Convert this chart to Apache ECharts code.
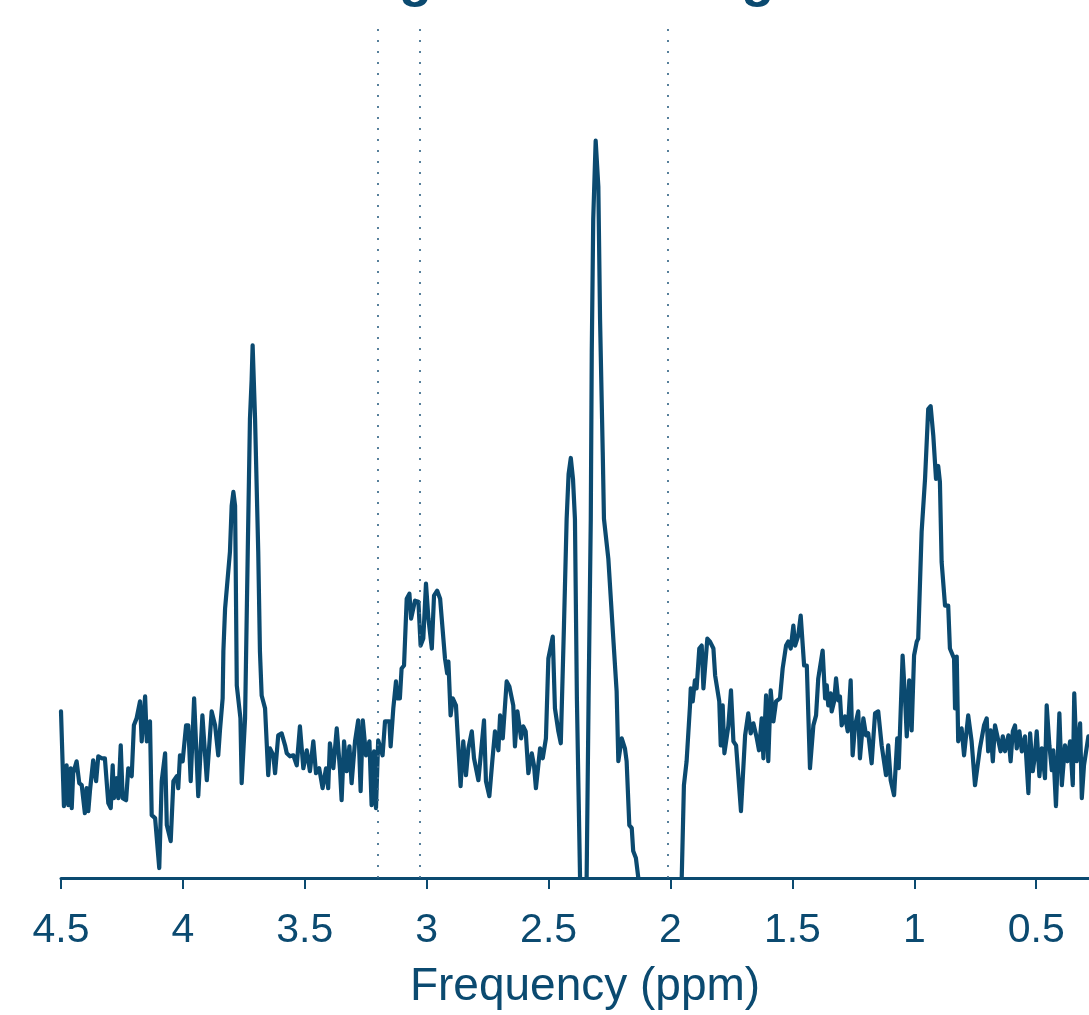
<!DOCTYPE html>
<html>
<head>
<meta charset="utf-8">
<script src="https://cdn.jsdelivr.net/npm/echarts@6/dist/echarts.min.js"></script>
<style>
html,body{margin:0;padding:0;background:#fff;}
#chart{width:1089px;height:1015px;}
</style>
</head>
<body>
<div id="chart"></div>
<script>
// Frequency axis (ppm), descending
const ppm = [
4.500,4.488,4.477,4.470,4.460,4.456,4.450,4.436,4.425,4.415,4.402,4.395,4.388,4.381,4.368,4.356,4.347,4.333,4.320,4.306,
4.296,4.288,4.283,4.272,4.265,4.255,4.247,4.233,4.224,4.210,4.201,4.190,4.176,4.169,4.155,4.148,4.135,4.128,4.114,4.097,
4.087,4.073,4.066,4.050,4.039,4.025,4.019,4.012,4.001,3.987,3.978,3.968,3.954,3.937,3.920,3.902,3.882,3.868,3.855,3.848,
3.837,3.834,3.827,3.807,3.800,3.793,3.786,3.784,3.779,3.764,3.759,3.745,3.734,3.725,3.718,3.714,3.704,3.691,3.684,3.677,
3.663,3.656,3.650,3.643,3.629,3.622,3.609,3.595,3.581,3.574,3.561,3.547,3.533,3.520,3.506,3.492,3.479,3.465,3.454,3.441,
3.427,3.413,3.404,3.397,3.383,3.369,3.356,3.349,3.339,3.328,3.317,3.308,3.294,3.281,3.271,3.262,3.249,3.235,3.226,3.216,
3.208,3.199,3.181,3.171,3.153,3.148,3.137,3.126,3.121,3.110,3.103,3.093,3.082,3.071,3.064,3.048,3.034,3.025,3.014,3.003,
2.993,2.979,2.970,2.957,2.945,2.925,2.916,2.911,2.902,2.893,2.880,2.861,2.850,2.839,2.829,2.815,2.806,2.788,2.765,2.757,
2.743,2.731,2.720,2.706,2.699,2.688,2.672,2.661,2.645,2.638,2.628,2.613,2.604,2.594,2.583,2.569,2.560,2.552,2.535,2.524,
2.511,2.501,2.483,2.474,2.460,2.450,2.437,2.426,2.418,2.409,2.400,2.392,2.384,2.371,2.359,2.344,2.336,2.327,2.323,2.317,
2.307,2.296,2.289,2.278,2.273,2.255,2.238,2.221,2.214,2.200,2.187,2.180,2.169,2.159,2.153,2.142,2.132,2.084,1.982,1.954,
1.945,1.934,1.920,1.917,1.909,1.900,1.893,1.882,1.872,1.865,1.849,1.838,1.824,1.817,1.800,1.794,1.786,1.779,1.763,1.752,
1.742,1.731,1.711,1.694,1.681,1.671,1.660,1.646,1.637,1.626,1.619,1.608,1.599,1.589,1.578,1.567,1.551,1.540,1.526,1.517,
1.507,1.496,1.489,1.476,1.466,1.452,1.441,1.428,1.414,1.403,1.394,1.376,1.366,1.359,1.353,1.343,1.339,1.329,1.321,1.312,
1.305,1.298,1.284,1.273,1.261,1.253,1.243,1.230,1.223,1.209,1.198,1.189,1.175,1.161,1.148,1.134,1.116,1.107,1.097,1.083,
1.070,1.064,1.048,1.038,1.031,1.021,1.011,1.001,0.990,0.984,0.970,0.956,0.943,0.933,0.922,0.911,0.902,0.895,0.888,0.874,
0.861,0.854,0.837,0.833,0.826,0.820,0.806,0.796,0.779,0.765,0.751,0.731,0.714,0.703,0.697,0.687,0.678,0.669,0.660,0.646,
0.637,0.628,0.614,0.605,0.596,0.587,0.580,0.569,0.559,0.546,0.532,0.525,0.514,0.505,0.498,0.487,0.477,0.464,0.457,0.446,
0.436,0.430,0.419,0.405,0.395,0.382,0.372,0.361,0.350,0.344,0.334,0.320,0.313,0.304,0.286,0.270,0.250
];
// Signal amplitude (arbitrary units)
const signal = [
1.67,0.72,1.13,0.73,1.10,0.70,1.05,1.17,0.95,0.93,0.65,0.90,0.67,0.88,1.18,0.97,1.22,1.20,1.20,0.75,
0.70,1.13,0.80,1.00,0.80,1.33,0.80,0.78,1.10,1.02,1.53,1.60,1.77,1.37,1.82,1.37,1.57,0.63,0.60,0.10,
0.97,1.25,0.53,0.37,0.97,1.02,0.90,1.23,1.17,1.53,1.53,0.97,1.80,0.82,1.63,0.98,1.67,1.53,1.23,1.48,
1.80,2.27,2.70,3.27,3.73,3.87,3.73,3.27,1.93,1.60,0.95,1.60,3.27,4.60,5.00,5.34,4.60,3.27,2.27,1.83,
1.70,1.68,1.03,1.30,1.23,1.05,1.43,1.45,1.33,1.25,1.22,1.23,1.13,1.52,1.10,1.28,1.07,1.37,1.05,1.10,
0.90,1.10,0.90,1.35,1.10,1.50,1.10,0.78,1.37,1.07,1.32,0.95,1.37,1.58,0.87,1.58,1.23,1.37,0.73,1.27,
0.70,1.38,1.23,1.57,1.57,1.32,1.70,1.97,1.80,1.80,2.10,2.13,2.80,2.85,2.60,2.78,2.77,2.33,2.40,2.95,
2.60,2.30,2.83,2.88,2.80,2.20,2.05,2.17,1.63,1.80,1.73,0.92,1.37,1.03,1.30,1.47,1.20,0.98,1.58,0.97,
0.82,1.17,1.47,1.28,1.63,1.40,1.97,1.92,1.73,1.32,1.67,1.40,1.52,1.47,1.05,1.25,1.13,0.90,1.30,1.20,
1.40,2.20,2.42,1.70,1.47,1.35,2.53,3.60,4.05,4.21,4.00,3.60,1.80,0.00,-1.20,0.00,1.80,3.60,5.27,6.60,
7.39,6.93,5.60,4.27,3.60,3.20,2.53,1.87,1.17,1.40,1.30,1.17,0.53,0.50,0.27,0.20,0.00,-1.00,-1.10,0.00,
0.93,1.17,1.73,1.90,1.77,1.98,1.90,2.30,2.33,1.90,2.40,2.37,2.30,2.03,1.77,1.33,1.73,1.25,1.52,1.88,
1.37,1.33,0.67,1.43,1.65,1.45,1.55,1.40,1.28,1.60,1.20,1.83,1.17,1.88,1.57,1.77,1.80,2.10,2.33,2.37,
2.30,2.53,2.33,2.43,2.63,2.13,2.13,1.10,1.53,1.63,2.00,2.28,1.80,1.93,1.73,1.85,1.67,1.77,2.00,1.78,
1.82,1.53,1.62,1.47,1.98,1.23,1.53,1.67,1.20,1.60,1.43,1.45,1.15,1.65,1.67,1.33,1.03,1.33,0.98,0.83,
1.40,1.10,2.23,1.80,1.42,1.98,1.48,2.23,2.37,2.40,3.47,4.00,4.70,4.73,4.43,4.00,4.13,3.97,3.17,2.73,
2.73,2.30,2.20,1.70,2.22,1.37,1.50,1.23,1.63,1.37,0.93,1.30,1.53,1.60,1.27,1.48,1.17,1.53,1.43,1.27,
1.42,1.27,1.43,1.17,1.47,1.53,1.30,1.47,1.27,1.42,0.85,1.45,1.07,1.23,1.47,1.02,1.30,1.00,1.73,1.33,
1.08,1.28,0.72,1.65,0.93,1.33,1.17,1.37,0.93,1.85,1.17,1.55,0.80,1.13,1.42,1.30,1.20
];
// Reference lines (ppm)
const markers = [3.2, 3.03, 2.01];
// Tick values on frequency axis
const tickValues = [4.5, 4, 3.5, 3, 2.5, 2, 1.5, 1, 0.5];

const INK = '#0b4a70';
const FONT = '"Liberation Sans", Arial, Helvetica, sans-serif';

const chart = echarts.init(document.getElementById('chart'), null, {renderer: 'canvas'});
const seriesData = ppm.map((p, i) => [p, signal[i]]);

chart.setOption({
  animation: false,
  backgroundColor: '#ffffff',
  title: {
    text: 'Averaged Edited Signal',
    left: 246,
    top: -51,
    textStyle: {fontFamily: FONT, fontSize: 54, fontWeight: 'bold', color: INK}
  },
  grid: {left: 61, top: 22, right: 0, height: 858, containLabel: false},
  xAxis: {
    type: 'value',
    min: 0.2835,
    max: 4.5,
    inverse: true,
    name: 'Frequency (ppm)',
    nameLocation: 'middle',
    nameGap: 86,
    nameTextStyle: {fontFamily: FONT, fontSize: 46, color: INK, padding: [0, 0, 0, 20]},
    splitLine: {show: false},
    axisLine: {show: true, lineStyle: {color: INK, width: 3}},
    axisTick: {show: true, length: 11, lineStyle: {color: INK, width: 2}, customValues: tickValues},
    axisLabel: {fontFamily: FONT, fontSize: 41, color: INK, margin: 32, customValues: tickValues,
      showMinLabel: true, showMaxLabel: true}
  },
  yAxis: {
    type: 'value',
    min: 0,
    max: 8.58,
    show: false,
    splitLine: {show: false}
  },
  series: [
    {
      type: 'line',
      data: [],
      z: 1,
      markLine: {
        silent: true,
        symbol: ['none', 'none'],
        label: {show: false},
        lineStyle: {type: [2, 9], color: '#3a6a8a', width: 1.7},
        data: markers.map(m => ({xAxis: m}))
      }
    },
    {
      type: 'line',
      data: seriesData,
      z: 3,
      showSymbol: false,
      symbol: 'none',
      clip: true,
      lineStyle: {color: INK, width: 4.2, join: 'round', cap: 'round'},
      itemStyle: {color: INK}
    }
  ]
});
</script>
</body>
</html>
